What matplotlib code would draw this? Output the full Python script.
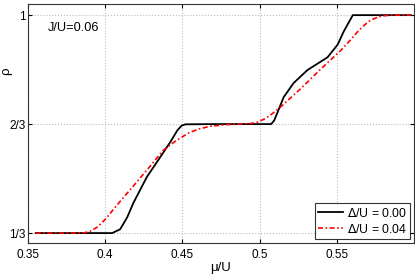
import matplotlib
matplotlib.use('Agg')
import matplotlib.pyplot as plt

plt.rcParams['font.family'] = ['Liberation Sans', 'DejaVu Sans']

# Delta/U = 0.00 (black)
mu_a = [0.355, 0.380, 0.4045, 0.4097, 0.4143, 0.4182, 0.427, 0.4357, 0.4422, 0.4468,
        0.4495, 0.452, 0.470, 0.490, 0.5075, 0.5095, 0.5156, 0.522, 0.531, 0.544,
        0.5506, 0.5545, 0.5604, 0.575, 0.598]
rho_a = [1/3, 1/3, 1/3, 0.345, 0.382, 0.425, 0.505, 0.566, 0.612, 0.648,
         0.662, 0.666, 2/3, 2/3, 2/3, 0.678, 0.749, 0.792, 0.832, 0.871,
         0.910, 0.950, 1.0, 1.0, 1.0]

# Delta/U = 0.04 (red)
mu_b = [0.355, 0.380, 0.386, 0.390, 0.395, 0.400, 0.405, 0.410, 0.416, 0.427,
        0.4377, 0.445, 0.4487, 0.4539, 0.460, 0.468, 0.478, 0.4896, 0.495, 0.4987,
        0.503, 0.507, 0.5136, 0.5266, 0.5396, 0.5526, 0.5591, 0.5636, 0.568, 0.572,
        0.5786, 0.585, 0.598]
rho_b = [1/3, 1/3, 0.334, 0.338, 0.352, 0.375, 0.404, 0.432, 0.465, 0.526,
         0.587, 0.613, 0.624, 0.639, 0.651, 0.660, 0.665, 0.667, 0.669, 0.673,
         0.682, 0.694, 0.719, 0.775, 0.835, 0.892, 0.925, 0.950, 0.970, 0.985,
         0.997, 1.0, 1.0]

fig = plt.figure(figsize=(4.15, 2.75), dpi=100)
ax = fig.add_axes([0.0675, 0.1164, 0.93, 0.869])

ax.plot(mu_a, rho_a, color='black', lw=1.3, label=r'$\Delta$/U = 0.00')
ax.plot(mu_b, rho_b, color='red', lw=1.2, ls=(0, (3, 1.5, 1, 1.5)),
        label=r'$\Delta$/U = 0.04')

ax.set_xlim(0.35, 0.6)
ax.set_ylim(0.303, 1.034)
ax.set_xticks([0.35, 0.4, 0.45, 0.5, 0.55])
ax.set_xticklabels(['0.35', '0.4', '0.45', '0.5', '0.55'])
ax.set_yticks([1/3, 2/3, 1])
ax.set_yticklabels(['1/3', '2/3', '1'])
ax.tick_params(direction='in', top=True, right=True, labelsize=8.5, length=3)
ax.tick_params(axis='y', pad=2)
ax.tick_params(axis='x', pad=4)
ax.grid(True, ls=':', color='#bbbbbb', lw=0.8)
for s in ax.spines.values():
    s.set_color('#333333')

ax.set_xlabel('μ/U', fontsize=9.5, labelpad=1)
ax.set_ylabel('ρ', fontsize=9.5)
ax.yaxis.set_label_coords(-0.042, 0.72)
ax.text(0.05, 0.9, 'J/U=0.06', transform=ax.transAxes, fontsize=9.2, va='center')

leg = ax.legend(loc='lower right', fontsize=8.8, frameon=True, fancybox=False,
                borderaxespad=0.3, handlelength=2.0, handletextpad=0.3,
                borderpad=0.3, labelspacing=0.25)
leg.get_frame().set_edgecolor('black')
leg.get_frame().set_linewidth(0.8)

fig.savefig('out.png', dpi=100)
